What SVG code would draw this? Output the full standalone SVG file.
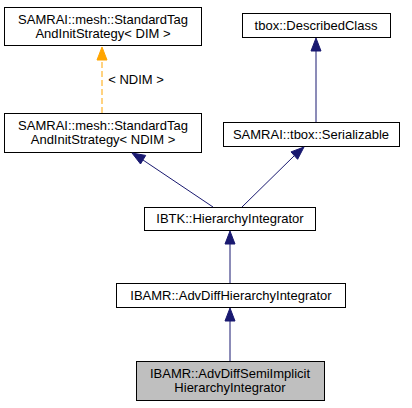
<svg xmlns="http://www.w3.org/2000/svg" width="412" height="408" viewBox="0 0 412 408">
<style>
.n rect{fill:#ffffff;stroke:#000000;stroke-width:1}
.n.cur rect{fill:#bfbfbf}
text{font-family:"Liberation Sans",Arial,sans-serif;font-size:13px;fill:#000000;text-anchor:middle}
.e line{stroke:#191970;stroke-width:1}
.e polygon{fill:#191970;stroke:#191970;stroke-width:1}
.t line{stroke:#ffa500;stroke-dasharray:6,3}
.t polygon{fill:#ffa500;stroke:#ffa500}
</style>
<rect width="412" height="408" fill="#ffffff"/>
<g id="node1" class="n">
<rect x="4.5" y="7.5" width="197" height="38"/>
<text x="103" y="24">SAMRAI::mesh::StandardTag</text>
<text x="103" y="38">AndInitStrategy&lt; DIM &gt;</text>
</g>
<g id="node2" class="n">
<rect x="4.5" y="113.5" width="197" height="39"/>
<text x="103" y="130">SAMRAI::mesh::StandardTag</text>
<text x="103" y="144">AndInitStrategy&lt; NDIM &gt;</text>
</g>
<g id="node3" class="n">
<rect x="242.5" y="13.5" width="148" height="24"/>
<text x="316" y="30">tbox::DescribedClass</text>
</g>
<g id="node4" class="n">
<rect x="223.5" y="122.5" width="176" height="24"/>
<text x="311" y="139">SAMRAI::tbox::Serializable</text>
</g>
<g id="node5" class="n">
<rect x="144.5" y="207.5" width="171" height="23"/>
<text x="230" y="223">IBTK::HierarchyIntegrator</text>
</g>
<g id="node6" class="n">
<rect x="116.5" y="283.5" width="229" height="24"/>
<text x="231" y="300">IBAMR::AdvDiffHierarchyIntegrator</text>
</g>
<g id="node7" class="n cur">
<rect x="136.5" y="361.5" width="188" height="39"/>
<text x="230" y="378">IBAMR::AdvDiffSemiImplicit</text>
<text x="230" y="392">HierarchyIntegrator</text>
</g>
<g id="edges">
<g class="t">
<line x1="102" y1="113" x2="102" y2="60"/>
<polygon points="102,47 107,60 97,60"/>
<text x="136" y="84">&lt; NDIM &gt;</text>
</g>
<g class="e">
<line x1="316" y1="122" x2="316" y2="51"/>
<polygon points="316,38 321,51 311,51"/>
</g>
<g class="e">
<line x1="213" y1="207" x2="143" y2="160"/>
<polygon points="132,153 145.7,155.4 140.5,164"/>
</g>
<g class="e">
<line x1="242" y1="207" x2="294" y2="156"/>
<polygon points="304,147 297.6,159.3 291,151.9"/>
</g>
<g class="e">
<line x1="230" y1="283" x2="230" y2="244"/>
<polygon points="230,231 235,244 225,244"/>
</g>
<g class="e">
<line x1="230" y1="361" x2="230" y2="321"/>
<polygon points="230,308 235,321 225,321"/>
</g>
</g>
</svg>
